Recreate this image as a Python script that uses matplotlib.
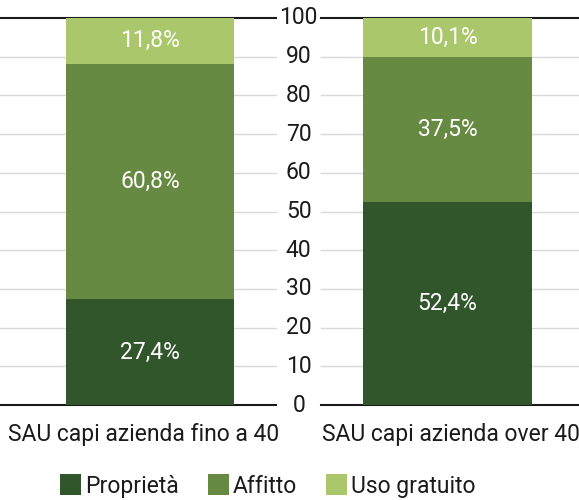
import matplotlib
matplotlib.use("Agg")
import matplotlib.pyplot as plt
from matplotlib.patches import Patch

plt.rcParams['font.family'] = ['Roboto', 'DejaVu Sans']

categories = ["SAU capi azienda fino a 40", "SAU capi azienda over 40"]
series_names = ["Proprietà", "Affitto", "Uso gratuito"]
proprieta = [27.4, 52.4]
affitto = [60.8, 37.5]
uso_gratuito = [11.8, 10.1]
value_labels = [["27,4%", "52,4%"], ["60,8%", "37,5%"], ["11,8%", "10,1%"]]
yticks = [0, 10, 20, 30, 40, 50, 60, 70, 80, 90, 100]

colors = ["#31562b", "#668a42", "#abc76b"]
text_color = "#1a1a1a"
fs = 16.5

fig = plt.figure(figsize=(5.79, 5.00), dpi=100)
ax = fig.add_axes([0, 0.19, 1, 0.774])
xmin, xmax = -0.504, 1.442
ax.set_xlim(xmin, xmax)
ax.set_ylim(0, 100)
ax.axis('off')

x = list(range(len(categories)))
gap = 0.076
for t in yticks:
    col = "#1a1a1a" if t in (0, 100) else "#d9d9d9"
    lw = 1.5 if t in (0, 100) else 1.0
    ax.plot([xmin, 0.5 - gap], [t, t], color=col, lw=lw, clip_on=False, zorder=1)
    ax.plot([0.5 + gap, xmax], [t, t], color=col, lw=lw, clip_on=False, zorder=1)
    ax.text(0.5, t, str(t), ha='center', va='center', fontsize=fs, color=text_color)

width = 0.567
series = [proprieta, affitto, uso_gratuito]
bottom = [0.0] * len(categories)
for s, vals in enumerate(series):
    ax.bar(x, vals, width=width, bottom=bottom, color=colors[s], zorder=2)
    for i, v in enumerate(vals):
        ax.text(x[i], bottom[i] + v / 2, value_labels[s][i], ha='center', va='center',
                fontsize=fs, color='white', zorder=3)
    bottom = [b + v for b, v in zip(bottom, vals)]

label_shift = [-0.02, 0.01]
for i, c in enumerate(categories):
    ax.text(x[i] + label_shift[i], -7.5, c, ha='center', va='center', fontsize=fs,
            color=text_color, clip_on=False)

handles = [Patch(facecolor=colors[i], edgecolor='none') for i in range(3)]
fig.legend(handles, series_names, loc='center', bbox_to_anchor=(268 / 579, 1 - 486 / 500),
           ncol=3, frameon=False, fontsize=fs, handlelength=0.9, handleheight=1.0,
           handletextpad=0.2, columnspacing=1.25, labelcolor=text_color)

fig.savefig("out.png", dpi=100)
